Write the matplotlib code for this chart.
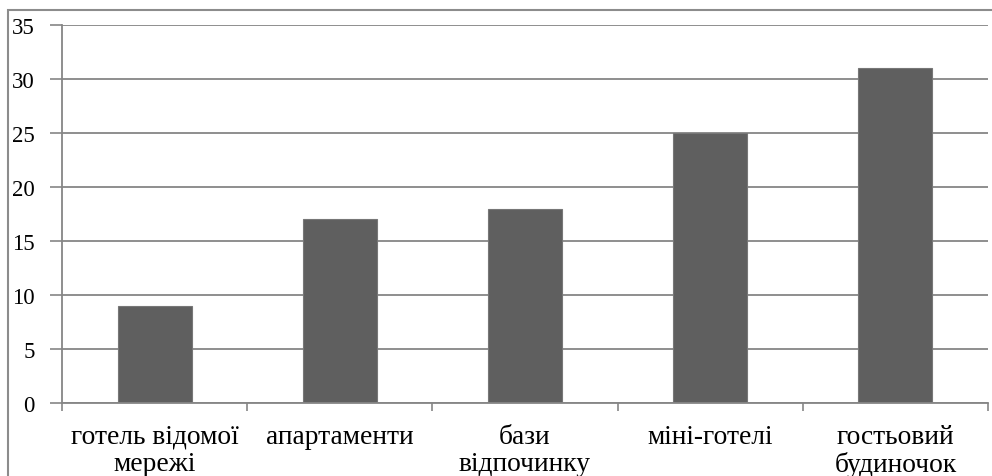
import matplotlib.pyplot as plt
from matplotlib.patches import Rectangle

plt.rcParams['font.family'] = 'serif'
plt.rcParams['font.serif'] = ['Liberation Serif', 'Times New Roman', 'DejaVu Serif']

# types of accommodation and their counts
categories = ['готель відомої\nмережі', 'апартаменти', 'бази\nвідпочинку',
              'міні-готелі', 'гостьовий\nбудиночок']
values = [9, 17, 18, 25, 31]
yticks = [0, 5, 10, 15, 20, 25, 30, 35]

W, H = 992, 477
fig = plt.figure(figsize=(W / 100, H / 100), dpi=100)
ax = fig.add_axes([62 / W, (H - 404) / H, (988 - 62) / W, (404 - 26) / H])

grid_col = '#868686'
x = range(len(categories))
ax.bar(x, values, width=0.4, color='#5f5f5f', edgecolor='#777777',
       linewidth=0.8, zorder=3)

ax.set_xlim(-0.5, len(categories) - 0.5)
ax.set_ylim(0, 35)
ax.set_yticks(yticks)
ax.yaxis.grid(True, color=grid_col, linewidth=1.3, zorder=0)

# category labels sit between boundary ticks
ax.set_xticks([i + 0.5 for i in range(-1, len(categories))])
ax.set_xticklabels([])
ax.set_xticks(list(x), minor=True)
ax.set_xticklabels(categories, minor=True, fontsize=19.8, linespacing=1.13)
ax.tick_params(axis='x', which='major', length=6, color=grid_col, width=1.2,
               direction='out')
ax.tick_params(axis='x', which='minor', length=0, pad=15)
ax.tick_params(axis='y', length=9, color=grid_col, width=1.2, labelsize=16.5,
               pad=10.5)

for s in ['top', 'right']:
    ax.spines[s].set_visible(False)
for s in ['left', 'bottom']:
    ax.spines[s].set_color(grid_col)
    ax.spines[s].set_linewidth(1.3)
    ax.spines[s].set_zorder(4)

# outer chart frame
fig.add_artist(Rectangle((8 / W, -0.1), 1.2, (H - 11) / H + 0.1,
                         transform=fig.transFigure, fill=False,
                         edgecolor='#8c8c8c', linewidth=1.5))

fig.savefig('out.png', dpi=100)
